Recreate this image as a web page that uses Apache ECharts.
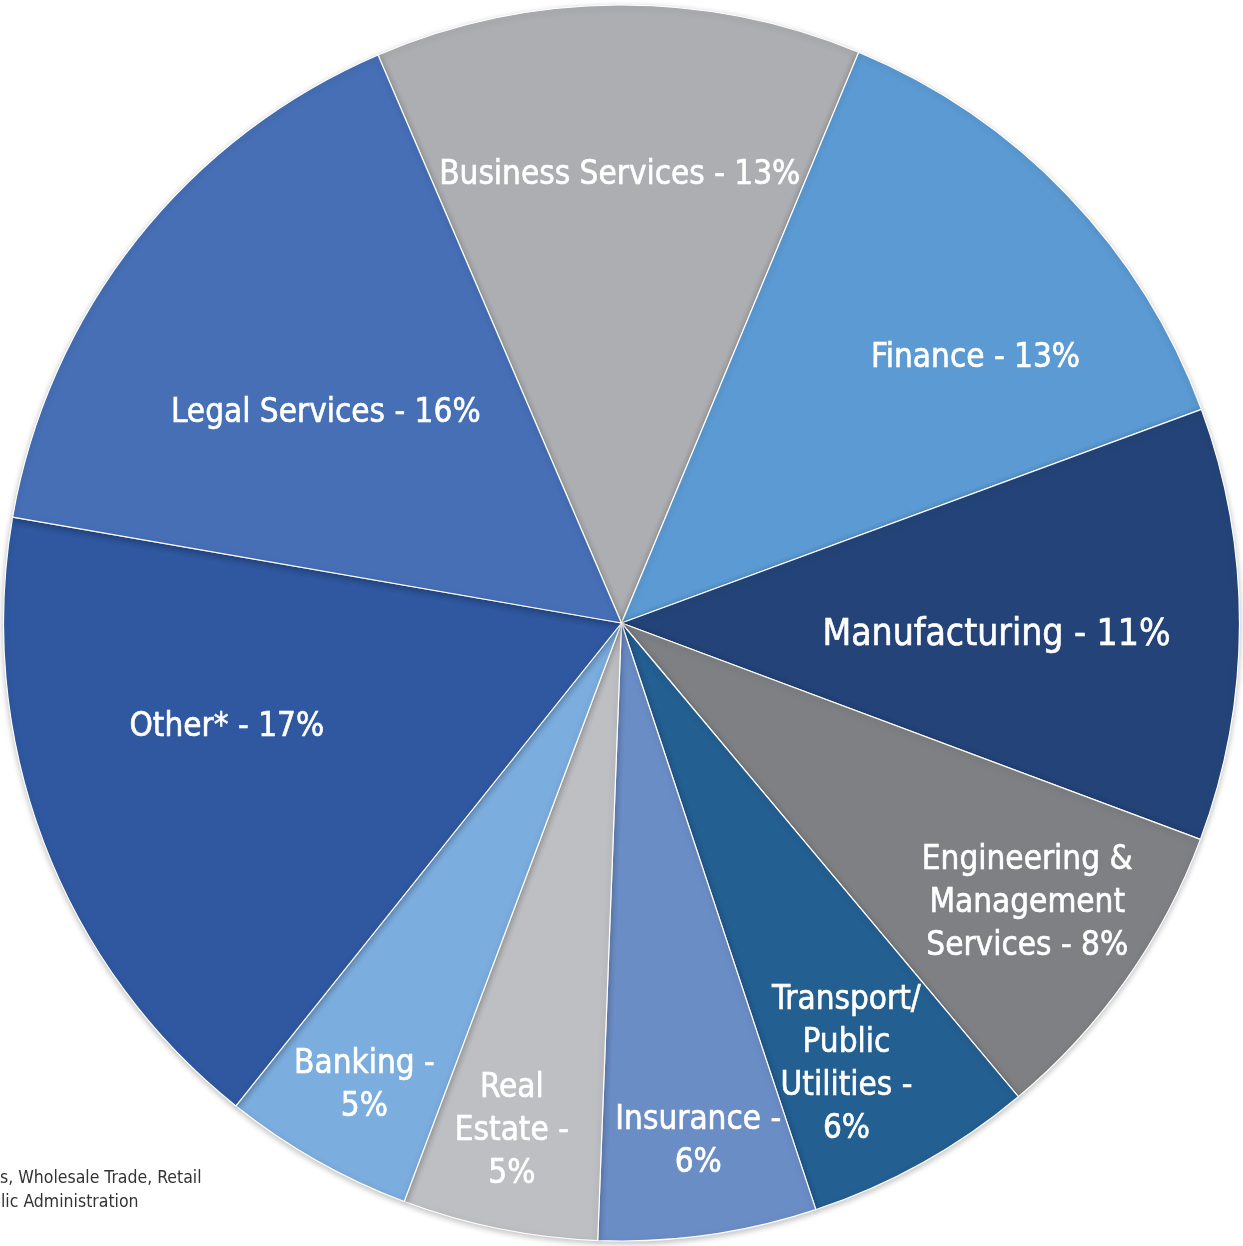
<!DOCTYPE html>
<html>
<head>
<meta charset="utf-8">
<script src="https://cdn.jsdelivr.net/npm/echarts@6/dist/echarts.min.js"></script>
<style>
html,body{margin:0;padding:0;background:#fff;}
#chart{width:1243px;height:1246px;}
</style>
</head>
<body>
<div id="chart"></div>
<script>
var categories = ['Business Services','Finance','Manufacturing','Engineering & Management Services','Transport/ Public Utilities','Insurance','Real Estate','Banking','Other*','Legal Services'];
var values = [12.7, 13.1, 11.3, 8.2, 6.0, 5.7, 5.1, 5.0, 17.0, 15.8];
var labelTexts = [
  'Business Services - 13%',
  'Finance - 13%',
  'Manufacturing - 11%',
  'Engineering &\nManagement\nServices - 8%',
  'Transport/\nPublic\nUtilities -\n6%',
  'Insurance -\n6%',
  'Real\nEstate -\n5%',
  'Banking -\n5%',
  'Other* - 17%',
  'Legal Services - 16%'
];
var footnoteLines = ['s, Wholesale Trade, Retail', 'blic Administration'];

var colors = ['#adaeb1','#5b9ad3','#244479','#7f8084','#245f92','#6b8dc6','#bebfc2','#7badde','#2f58a0','#466fb6'];
var labelOffsets = [[0,-136],[129,-49],[63,12],[151,100],[73,169],[33,210],[-48,203],[-103,192],[-103,-6],[-51,-16]];
var labelSizes = [33,33,37,33,33,33,33,33,33,33];

var FONT = '"Liberation Sans Narrow","DejaVu Sans Condensed","Roboto Condensed",sans-serif';

var data = categories.map(function(c,i){
  return {
    name: c,
    value: values[i],
    itemStyle: {color: colors[i]},
    label: {formatter: labelTexts[i], fontSize: labelSizes[i], lineHeight: 43}
  };
});

var chart = echarts.init(document.getElementById('chart'), null, {renderer:'canvas'});
chart.setOption({
  animation: false,
  series: [{
    type: 'pie',
    center: ['50%','50%'],
    radius: [0, 618],
    startAngle: 113.2,
    clockwise: true,
    data: data,
    itemStyle: {borderColor:'#ffffff', borderWidth:1.2, shadowBlur:6, shadowColor:'rgba(0,0,0,0.25)', shadowOffsetY:2},
    label: {show:true, position:'inside', color:'#ffffff', fontFamily: FONT, fontWeight:'normal', align:'center', textBorderColor:'#ffffff', textBorderWidth:0.6},
    labelLine: {show:false},
    emphasis: {disabled:true},
    labelLayout: function(p){
      var o = labelOffsets[p.dataIndex];
      return {dx:o[0], dy:o[1]};
    }
  }],
  graphic: [{
    type:'text', x:0, y:1169,
    style:{text: footnoteLines[0], fontSize:17.5, fill:'#333333', fontFamily: FONT}
  },{
    type:'text', x:-9, y:1193,
    style:{text: footnoteLines[1], fontSize:17.5, fill:'#333333', fontFamily: FONT}
  }]
});
</script>
</body>
</html>
